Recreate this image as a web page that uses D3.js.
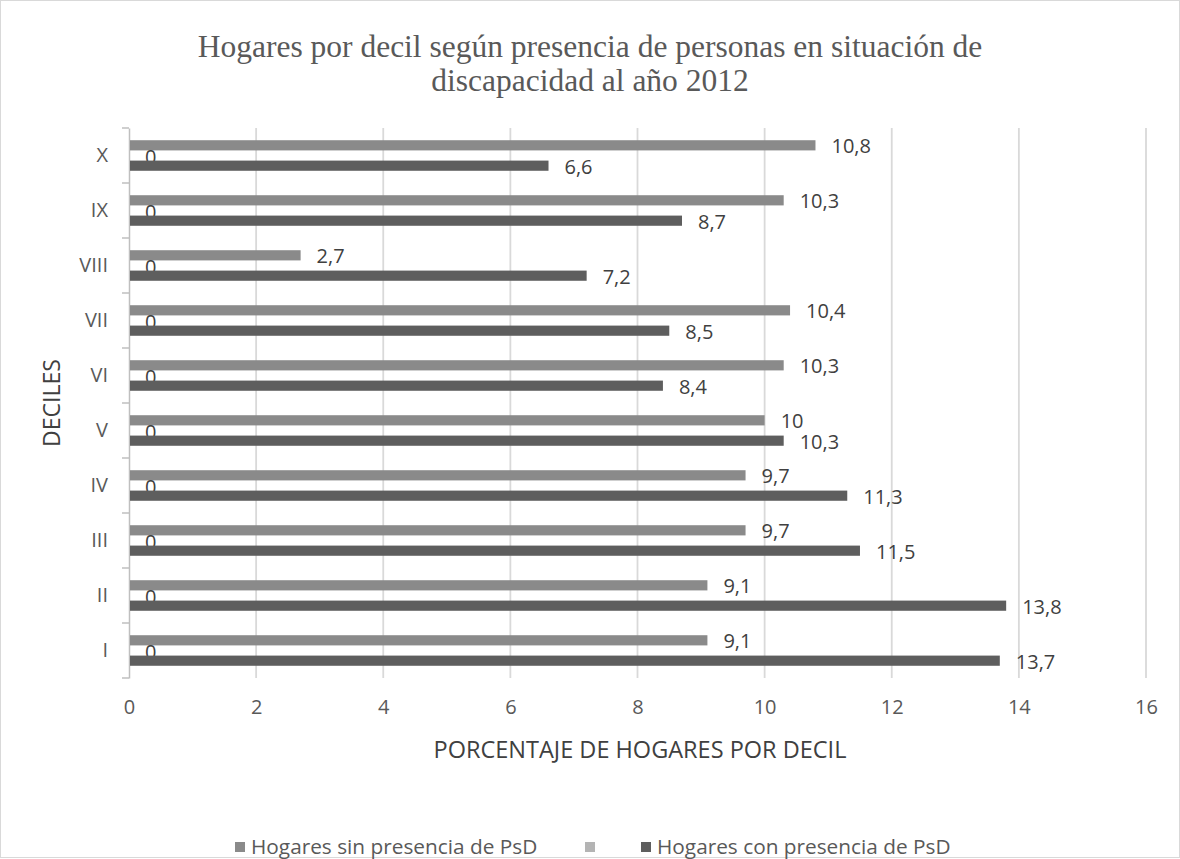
<!DOCTYPE html>
<html>
<head>
<meta charset="utf-8">
<script src="https://cdn.jsdelivr.net/npm/d3@7"></script>
<style>
  body { margin: 0; background: #fff; }
  text { font-family: "Open Sans", "Liberation Sans", sans-serif; }
</style>
</head>
<body>
<div id="chartArea"></div>
<script>
// data (I is drawn at the bottom)
let deciles = ['I', 'II', 'III', 'IV', 'V', 'VI', 'VII', 'VIII', 'IX', 'X'];
let sinPsD = [9.1, 9.1, 9.7, 9.7, 10, 10.3, 10.4, 2.7, 10.3, 10.8];
let vacio = [0, 0, 0, 0, 0, 0, 0, 0, 0, 0];
let conPsD = [13.7, 13.8, 11.5, 11.3, 10.3, 8.4, 8.5, 7.2, 8.7, 6.6];
let xTicks = [0, 2, 4, 6, 8, 10, 12, 14, 16];

let seriesNames = ['Hogares sin presencia de PsD', '', 'Hogares con presencia de PsD'];
let seriesColors = ['#8a8a8a', '#b4b4b4', '#5e5e5e'];
let seriesValues = [sinPsD, vacio, conPsD];

let width = 1180, height = 859;
let plot = { left: 129, right: 1146, top: 128, bottom: 678 };

let svg = d3.select('#chartArea')
    .append('svg')
        .attr('width', width)
        .attr('height', height);

// chart border
svg.append('rect')
    .attr('x', 0.5).attr('y', 0.5)
    .attr('width', width - 1).attr('height', height - 2)
    .attr('fill', '#fff')
    .attr('stroke', '#d9d9d9');

// title
svg.append('text')
    .attr('x', 590)
    .attr('text-anchor', 'middle')
    .style('font-family', '"Liberation Serif", "Times New Roman", serif')
    .style('font-size', '31.5px')
    .attr('fill', '#595959')
    .selectAll('tspan')
    .data(['Hogares por decil según presencia de personas en situación de', 'discapacidad al año 2012'])
    .join('tspan')
        .attr('x', 590)
        .attr('y', (d, i) => 57 + i * 34)
        .text(d => d);

let xScale = d3.scaleLinear()
    .domain([0, 16])
    .range([plot.left, plot.right]);

// categories, I at bottom
let yScale = d3.scaleBand()
    .domain(deciles.slice().reverse())
    .range([plot.top, plot.bottom]);

let inner = d3.scaleBand()
    .domain([0, 1, 2])
    .range([0, yScale.bandwidth()])
    .paddingInner(0)
    .paddingOuter(1.2);

// gridlines
svg.append('g')
    .selectAll('line')
    .data(xTicks.slice(1))
    .join('line')
        .attr('x1', d => xScale(d))
        .attr('x2', d => xScale(d))
        .attr('y1', plot.top)
        .attr('y2', plot.bottom)
        .attr('stroke', '#d9d9d9')
        .attr('stroke-width', 1.8);

// x axis labels
svg.append('g')
    .attr('class', 'x axis')
    .attr('transform', 'translate(0,' + plot.bottom + ')')
    .call(d3.axisBottom(xScale).tickValues(xTicks).tickSize(0).tickPadding(22))
    .call(g => g.select('.domain').remove())
    .call(g => g.selectAll('text')
        .style('font-family', '"Open Sans", sans-serif')
        .style('font-size', '20px')
        .attr('fill', '#595959'));

// y axis
svg.append('g')
    .attr('class', 'y axis')
    .attr('transform', 'translate(' + plot.left + ',0)')
    .call(d3.axisLeft(yScale).tickSize(0).tickPadding(21))
    .call(g => g.select('.domain').attr('stroke', '#bfbfbf').attr('stroke-width', 1.5))
    .call(g => g.selectAll('text')
        .style('font-family', '"Open Sans", sans-serif')
        .style('font-size', '20px')
        .attr('fill', '#595959'));

// category tick marks between groups
svg.append('g')
    .selectAll('line')
    .data(d3.range(deciles.length + 1))
    .join('line')
        .attr('x1', plot.left - 7)
        .attr('x2', plot.left)
        .attr('y1', i => plot.top + i * yScale.step())
        .attr('y2', i => plot.top + i * yScale.step())
        .attr('stroke', '#bfbfbf')
        .attr('stroke-width', 1.5);

// bars and labels
seriesValues.forEach((vals, s) => {
    let g = svg.append('g');
    g.selectAll('rect')
        .data(vals)
        .join('rect')
            .attr('x', xScale(0) + 1)
            .attr('y', (d, i) => yScale(deciles[i]) + inner(s))
            .attr('width', d => Math.max(0, xScale(d) - xScale(0) - 1))
            .attr('height', inner.bandwidth())
            .attr('fill', seriesColors[s]);

    g.selectAll('text')
        .data(vals)
        .join('text')
            .attr('x', d => xScale(d) + 16)
            .attr('y', (d, i) => yScale(deciles[i]) + inner(s) + inner.bandwidth() / 2 + 1)
            .attr('dy', '0.35em')
            .style('font-size', '20px')
            .attr('fill', '#404040')
            .text(d => String(d).replace('.', ','));
});

// axis titles
svg.append('text')
    .attr('x', 640)
    .attr('y', 758)
    .attr('text-anchor', 'middle')
    .style('font-size', '23.5px')
    .attr('fill', '#404040')
    .text('PORCENTAJE DE HOGARES POR DECIL');

svg.append('text')
    .attr('transform', 'translate(52,' + ((plot.top + plot.bottom) / 2) + ') rotate(-90)')
    .attr('dy', '0.35em')
    .attr('text-anchor', 'middle')
    .style('font-size', '23px')
    .attr('fill', '#404040')
    .text('DECILES');

// legend
let legendX = [235, 585, 641];
let legend = svg.append('g')
    .selectAll('g')
    .data(seriesNames)
    .join('g')
        .attr('transform', (d, i) => 'translate(' + legendX[i] + ',847)');

legend.append('rect')
    .attr('x', 0).attr('y', -5)
    .attr('width', 10).attr('height', 10)
    .attr('fill', (d, i) => seriesColors[i]);

legend.append('text')
    .attr('x', 16)
    .attr('dy', '0.35em')
    .style('font-size', '20.8px')
    .attr('fill', '#595959')
    .text(d => d);
</script>
</body>
</html>
